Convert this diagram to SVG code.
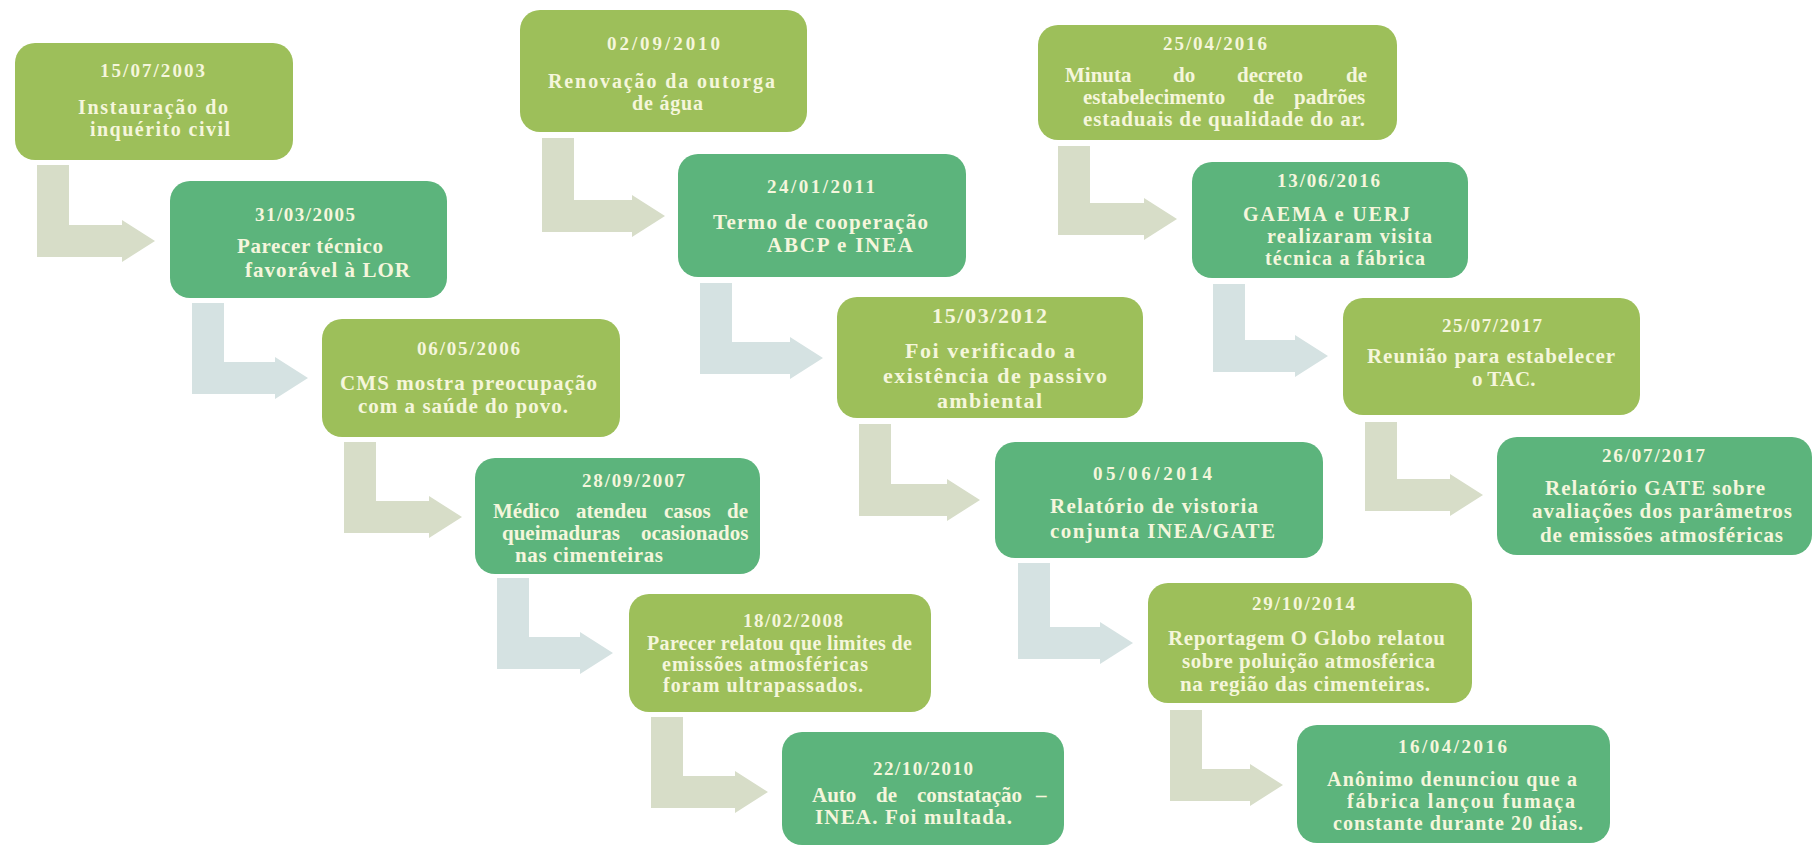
<svg xmlns="http://www.w3.org/2000/svg" width="1813" height="847" viewBox="0 0 1813 847">
<style>
.bg{fill:#ffffff}
.olive{fill:#9dbf5a}
.teal{fill:#5cb47c}
.ag{fill:#d7ddc8}
.ab{fill:#d5e2e2}
.t{font-family:"Liberation Serif","Times New Roman",serif;font-weight:bold;font-size:21px;fill:#f5f6dc}
.d{font-size:19px}
.s{font-size:20px}
.big{font-size:22px}
</style>
<rect class="bg" x="0" y="0" width="1813" height="847"/>
<g id="connectors">
<path class="ag" d="M37,165 H69 V225 H122 V220 L155,241 L122,262 V257 H37 Z"/>
<path class="ab" d="M192,303 H224 V362 H275 V357 L308,378 L275,399 V394 H192 Z"/>
<path class="ag" d="M344,442 H376 V501 H429 V496 L462,517 L429,538 V533 H344 Z"/>
<path class="ab" d="M497,578 H529 V637 H580 V632 L613,653 L580,674 V669 H497 Z"/>
<path class="ag" d="M651,717 H683 V776 H735 V771 L768,792 L735,813 V808 H651 Z"/>
<path class="ag" d="M542,138 H574 V200 H632 V195 L665,216 L632,237 V232 H542 Z"/>
<path class="ab" d="M700,283 H732 V342 H790 V337 L823,358 L790,379 V374 H700 Z"/>
<path class="ag" d="M859,424 H891 V484 H947 V479 L980,500 L947,521 V516 H859 Z"/>
<path class="ab" d="M1018,563 H1050 V627 H1100 V622 L1133,643 L1100,664 V659 H1018 Z"/>
<path class="ag" d="M1170,710 H1202 V769 H1250 V764 L1283,785 L1250,806 V801 H1170 Z"/>
<path class="ag" d="M1058,146 H1090 V203 H1144 V198 L1177,219 L1144,240 V235 H1058 Z"/>
<path class="ab" d="M1213,284 H1245 V340 H1295 V335 L1328,356 L1295,377 V372 H1213 Z"/>
<path class="ag" d="M1365,422 H1397 V479 H1450 V474 L1483,495 L1450,516 V511 H1365 Z"/>
</g>
<g id="n1">
<rect class="olive" x="15" y="43" width="278" height="117" rx="20"/>
<text class="t d" x="100" y="77" textLength="105" lengthAdjust="spacing">15/07/2003</text>
<text class="t s" x="78" y="114" textLength="150" lengthAdjust="spacing">Instauração do</text>
<text class="t s" x="90" y="136" textLength="140" lengthAdjust="spacing">inquérito civil</text>
</g>
<g id="n2">
<rect class="teal" x="170" y="181" width="277" height="117" rx="20"/>
<text class="t d" x="255" y="221" textLength="100" lengthAdjust="spacing">31/03/2005</text>
<text class="t" x="237" y="253" textLength="146" lengthAdjust="spacing">Parecer técnico</text>
<text class="t" x="245" y="277" textLength="165" lengthAdjust="spacing">favorável à LOR</text>
</g>
<g id="n3">
<rect class="olive" x="322" y="319" width="298" height="118" rx="20"/>
<text class="t d" x="417" y="355" textLength="103" lengthAdjust="spacing">06/05/2006</text>
<text class="t" x="340" y="390" textLength="257" lengthAdjust="spacing">CMS mostra preocupação</text>
<text class="t" x="358" y="413" textLength="210" lengthAdjust="spacing">com a saúde do povo.</text>
</g>
<g id="n4">
<rect class="teal" x="475" y="458" width="285" height="116" rx="20"/>
<text class="t d" x="582" y="487" textLength="103" lengthAdjust="spacing">28/09/2007</text>
<text class="t" y="518"><tspan x="493">Médico</tspan><tspan x="576">atendeu</tspan><tspan x="664">casos</tspan><tspan x="727">de</tspan></text>
<text class="t" y="540"><tspan x="502">queimaduras</tspan><tspan x="641">ocasionados</tspan></text>
<text class="t" x="515" y="562" textLength="148" lengthAdjust="spacing">nas cimenteiras</text>
</g>
<g id="n5">
<rect class="olive" x="629" y="594" width="302" height="118" rx="20"/>
<text class="t d" x="743" y="627" textLength="100" lengthAdjust="spacing">18/02/2008</text>
<text class="t s" x="647" y="650" textLength="265" lengthAdjust="spacing">Parecer relatou que limites de</text>
<text class="t s" x="662" y="671" textLength="206" lengthAdjust="spacing">emissões atmosféricas</text>
<text class="t s" x="663" y="692" textLength="200" lengthAdjust="spacing">foram ultrapassados.</text>
</g>
<g id="n6">
<rect class="teal" x="782" y="732" width="282" height="113" rx="20"/>
<text class="t d" x="873" y="775" textLength="100" lengthAdjust="spacing">22/10/2010</text>
<text class="t" y="802"><tspan x="812">Auto</tspan><tspan x="876">de</tspan><tspan x="917">constatação</tspan><tspan x="1036">–</tspan></text>
<text class="t" x="815" y="824" textLength="197" lengthAdjust="spacing">INEA. Foi multada.</text>
</g>
<g id="n7">
<rect class="olive" x="520" y="10" width="287" height="122" rx="20"/>
<text class="t d" x="607" y="50" textLength="113" lengthAdjust="spacing">02/09/2010</text>
<text class="t s" x="548" y="88" textLength="227" lengthAdjust="spacing">Renovação da outorga</text>
<text class="t s" x="632" y="110" textLength="71" lengthAdjust="spacing">de água</text>
</g>
<g id="n8">
<rect class="teal" x="678" y="154" width="288" height="123" rx="20"/>
<text class="t d" x="767" y="193" textLength="108" lengthAdjust="spacing">24/01/2011</text>
<text class="t" x="713" y="229" textLength="215" lengthAdjust="spacing">Termo de cooperação</text>
<text class="t" x="767" y="252" textLength="146" lengthAdjust="spacing">ABCP e INEA</text>
</g>
<g id="n9">
<rect class="olive" x="837" y="297" width="306" height="121" rx="20"/>
<text class="t big" x="932" y="323" textLength="115" lengthAdjust="spacing">15/03/2012</text>
<text class="t big" x="905" y="358" textLength="170" lengthAdjust="spacing">Foi verificado a</text>
<text class="t big" x="883" y="383" textLength="224" lengthAdjust="spacing">existência de passivo</text>
<text class="t big" x="937" y="408" textLength="105" lengthAdjust="spacing">ambiental</text>
</g>
<g id="n10">
<rect class="teal" x="995" y="442" width="328" height="116" rx="20"/>
<text class="t d" x="1093" y="480" textLength="119" lengthAdjust="spacing">05/06/2014</text>
<text class="t" x="1050" y="513" textLength="208" lengthAdjust="spacing">Relatório de vistoria</text>
<text class="t" x="1050" y="538" textLength="225" lengthAdjust="spacing">conjunta INEA/GATE</text>
</g>
<g id="n11">
<rect class="olive" x="1148" y="583" width="324" height="120" rx="20"/>
<text class="t d" x="1252" y="610" textLength="103" lengthAdjust="spacing">29/10/2014</text>
<text class="t" x="1168" y="645" textLength="277" lengthAdjust="spacing">Reportagem O Globo relatou</text>
<text class="t" x="1182" y="668" textLength="253" lengthAdjust="spacing">sobre poluição atmosférica</text>
<text class="t" x="1180" y="691" textLength="250" lengthAdjust="spacing">na região das cimenteiras.</text>
</g>
<g id="n12">
<rect class="teal" x="1297" y="725" width="313" height="118" rx="20"/>
<text class="t d" x="1398" y="753" textLength="109" lengthAdjust="spacing">16/04/2016</text>
<text class="t s" x="1327" y="786" textLength="250" lengthAdjust="spacing">Anônimo denunciou que a</text>
<text class="t s" x="1347" y="808" textLength="228" lengthAdjust="spacing">fábrica lançou fumaça</text>
<text class="t s" x="1333" y="830" textLength="250" lengthAdjust="spacing">constante durante 20 dias.</text>
</g>
<g id="n13">
<rect class="olive" x="1038" y="25" width="359" height="115" rx="20"/>
<text class="t d" x="1163" y="50" textLength="104" lengthAdjust="spacing">25/04/2016</text>
<text class="t" y="82"><tspan x="1065">Minuta</tspan><tspan x="1173">do</tspan><tspan x="1237">decreto</tspan><tspan x="1346">de</tspan></text>
<text class="t" y="104"><tspan x="1083">estabelecimento</tspan><tspan x="1253">de</tspan><tspan x="1294">padrões</tspan></text>
<text class="t" x="1083" y="126" textLength="282" lengthAdjust="spacing">estaduais de qualidade do ar.</text>
</g>
<g id="n14">
<rect class="teal" x="1192" y="162" width="276" height="116" rx="20"/>
<text class="t d" x="1277" y="187" textLength="103" lengthAdjust="spacing">13/06/2016</text>
<text class="t s" x="1243" y="221" textLength="167" lengthAdjust="spacing">GAEMA e UERJ</text>
<text class="t s" x="1267" y="243" textLength="165" lengthAdjust="spacing">realizaram visita</text>
<text class="t s" x="1265" y="265" textLength="160" lengthAdjust="spacing">técnica a fábrica</text>
</g>
<g id="n15">
<rect class="olive" x="1343" y="298" width="297" height="117" rx="20"/>
<text class="t d" x="1442" y="332" textLength="100" lengthAdjust="spacing">25/07/2017</text>
<text class="t" x="1367" y="363" textLength="248" lengthAdjust="spacing">Reunião para estabelecer</text>
<text class="t" x="1472" y="386">o TAC.</text>
</g>
<g id="n16">
<rect class="teal" x="1497" y="437" width="315" height="118" rx="20"/>
<text class="t d" x="1602" y="462" textLength="103" lengthAdjust="spacing">26/07/2017</text>
<text class="t" x="1545" y="495" textLength="220" lengthAdjust="spacing">Relatório GATE sobre</text>
<text class="t" x="1532" y="518" textLength="260" lengthAdjust="spacing">avaliações dos parâmetros</text>
<text class="t" x="1540" y="542" textLength="243" lengthAdjust="spacing">de emissões atmosféricas</text>
</g>
</svg>
